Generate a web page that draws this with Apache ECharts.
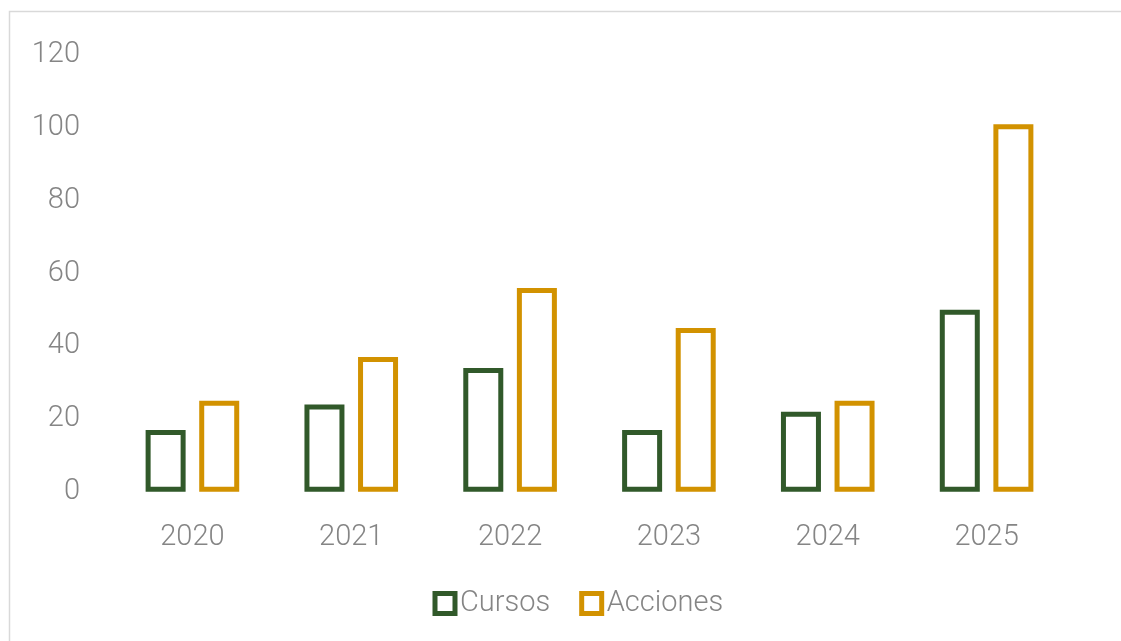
<!DOCTYPE html>
<html>
<head>
<meta charset="utf-8">
<script src="https://cdn.jsdelivr.net/npm/echarts@6/dist/echarts.min.js"></script>
<style>
html,body{margin:0;padding:0;background:#fff;}
#chart{width:1121px;height:641px;}
</style>
</head>
<body>
<div id="chart"></div>
<script>
const categories = ['2020', '2021', '2022', '2023', '2024', '2025'];
const cursos = [17, 24, 34, 17, 22, 50];
const acciones = [25, 37, 56, 45, 25, 101];
const yTicks = { min: 0, max: 120, interval: 20 };

const GREEN = '#31592a';
const GOLD = '#d29200';
const TEXT = '#858585';
const FONT = 'Roboto';

const chart = echarts.init(document.getElementById('chart'), null, { renderer: 'canvas' });
chart.setOption({
  backgroundColor: '#ffffff',
  animation: false,
  graphic: [{
    type: 'rect',
    shape: { x: 9.5, y: 11.5, width: 1200, height: 700 },
    style: { fill: 'none', stroke: '#d9d9d9', lineWidth: 1.5 },
    silent: true, z: -10
  }],
  grid: { left: 113, right: 55, top: 55, bottom: 149.2, containLabel: false },
  legend: {
    bottom: 23,
    left: 432.5,
    padding: 0,
    itemWidth: 20,
    itemHeight: 20,
    itemGap: 29,
    icon: 'rect',
    textStyle: { color: TEXT, fontSize: 29, fontFamily: FONT, fontWeight: 300 },
    data: [
      { name: 'Cursos', itemStyle: { color: '#fff', borderColor: GREEN, borderWidth: 5 } },
      { name: 'Acciones', itemStyle: { color: '#fff', borderColor: GOLD, borderWidth: 5 } }
    ]
  },
  xAxis: {
    type: 'category',
    data: categories,
    axisLine: { show: false },
    axisTick: { show: false },
    axisLabel: { color: TEXT, fontSize: 29, fontFamily: FONT, fontWeight: 300, margin: 31 }
  },
  yAxis: {
    type: 'value',
    min: yTicks.min, max: yTicks.max, interval: yTicks.interval,
    axisLine: { show: false },
    axisTick: { show: false },
    splitLine: { show: false },
    axisLabel: { color: TEXT, fontSize: 29, fontFamily: FONT, fontWeight: 300, margin: 33 }
  },
  series: [
    {
      name: 'Cursos', type: 'bar', data: cursos,
      barWidth: 40, barGap: '34%',
      itemStyle: { color: '#fff', borderColor: GREEN, borderWidth: 5 }
    },
    {
      name: 'Acciones', type: 'bar', data: acciones,
      barWidth: 40,
      itemStyle: { color: '#fff', borderColor: GOLD, borderWidth: 5 }
    }
  ]
});
</script>
</body>
</html>
